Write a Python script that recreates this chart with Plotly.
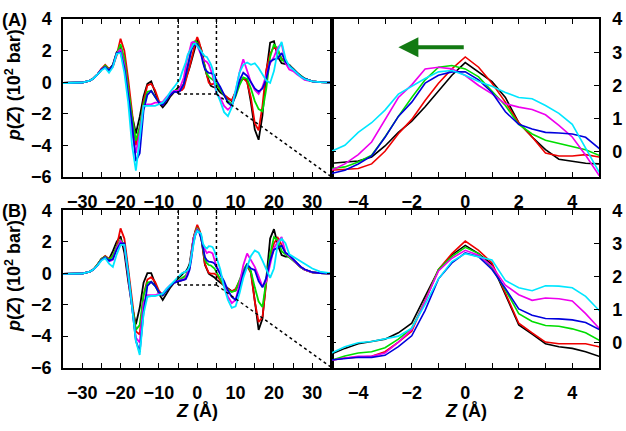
import plotly.graph_objects as go

# Z grid (Å): 1 Å steps outside the zoom window, 0.5 Å inside
Z = [-35, -32, -30, -28, -27, -26, -25, -24, -23, -22, -21, -20, -19, -18, -17, -16, -15, -14, -13, -12, -11, -10, -9, -8, -7, -6,
     -5, -4.5, -4, -3.5, -3, -2.5, -2, -1.5, -1, -0.5, 0, 0.5, 1, 1.5, 2, 2.5, 3, 3.5, 4, 4.5, 5,
     6, 7, 8, 9, 10, 11, 12, 13, 14, 15, 16, 17, 18, 19, 20, 21, 22, 23, 24, 25, 26, 27, 28, 30, 32, 35]

# Panel (A): p(Z) in 10^2 bar
A_black = [-0.05, -0.05, -0.02, 0.1, 0.25, 0.5, 0.8, 1.0, 0.8, 1.1, 1.9, 2.2, 1.3, -0.6, -2.1, -3.25, -2.2, -0.9, -0.1, 0.05, -0.7, -1.3, -1.6, -1.3, -0.9, -0.6,
           -0.34, -0.3, -0.27, -0.15, 0.18, 0.59, 0.93, 1.36, 1.83, 2.31, 2.69, 2.41, 2.12, 1.64, 0.88, 0.45, 0.07, -0.22, -0.29, -0.34, -0.36,
           -0.65, -0.85, -1.05, -1.2, -0.65, -0.05, 0.25, 0.1, -1.3, -3.0, -3.65, -2.1, 0.6, 2.5, 2.6, 1.6, 1.2, 1.15, 1.1, 0.8, 0.55, 0.38, 0.22, 0.05, 0.0, -0.02]
A_red = [-0.05, -0.05, -0.02, 0.1, 0.25, 0.5, 0.85, 1.1, 0.85, 1.0, 1.7, 2.75, 2.0, 0.2, -1.8, -4.0, -3.0, -1.2, -0.2, -0.1, -0.5, -1.2, -1.45, -1.1, -0.8, -0.6,
         -0.55, -0.52, -0.5, -0.36, 0.02, 0.55, 0.98, 1.55, 2.07, 2.5, 2.86, 2.55, 2.07, 1.5, 0.88, 0.45, -0.03, -0.12, -0.12, -0.08, -0.15,
         -0.5, -0.8, -1.0, -1.15, -0.6, 0.0, 0.25, 0.0, -1.0, -2.6, -3.05, -1.5, 0.8, 1.8, 2.25, 2.0, 1.5, 1.3, 1.1, 0.85, 0.6, 0.38, 0.22, 0.05, 0.0, -0.02]
A_green = [-0.05, -0.05, -0.02, 0.1, 0.25, 0.5, 0.8, 1.05, 0.8, 1.05, 1.8, 2.4, 1.5, -0.4, -2.2, -3.7, -2.8, -1.4, -0.6, -0.55, -0.9, -1.3, -1.4, -1.05, -0.75, -0.55,
           -0.5, -0.45, -0.3, -0.1, 0.45, 1.07, 1.64, 2.17, 2.55, 2.6, 2.5, 2.26, 1.83, 1.4, 0.83, 0.54, 0.35, 0.25, 0.16, 0.07, -0.1,
           -0.45, -0.8, -1.2, -1.4, -0.9, -0.2, 0.3, 0.2, -0.4, -1.2, -1.7, -1.85, -0.4, 1.6, 2.4, 2.1, 1.4, 1.3, 1.1, 0.85, 0.6, 0.38, 0.22, 0.05, 0.0, -0.02]
A_magenta = [-0.05, -0.05, -0.02, 0.1, 0.25, 0.5, 0.8, 0.95, 0.75, 1.0, 1.8, 2.1, 1.1, -0.8, -3.2, -4.5, -3.2, -1.5, -1.4, -1.4, -1.3, -1.3, -1.25, -0.95, -0.7, -0.55,
             -0.55, -0.36, -0.08, 0.3, 0.98, 1.64, 2.02, 2.5, 2.55, 2.5, 2.3, 2.0, 1.75, 1.45, 1.35, 1.28, 1.12, 0.8, 0.45, -0.1, -0.7,
             -1.0, -1.5, -1.75, -1.5, -0.6, 0.6, 1.45, 0.7, 0.0, -0.5, -0.75, -0.3, 0.4, 1.2, 1.6, 2.2, 2.45, 1.2, 0.8, 0.7, 0.5, 0.3, 0.15, 0.05, 0.0, -0.02]
A_blue = [-0.05, -0.05, -0.02, 0.1, 0.25, 0.5, 0.8, 0.95, 0.75, 1.05, 1.85, 1.9, 0.9, -0.8, -2.6, -5.0, -4.5, -1.8, -0.8, -0.55, -0.9, -1.3, -1.45, -1.1, -0.8, -0.6,
          -0.65, -0.55, -0.36, -0.12, 0.44, 1.07, 1.5, 2.07, 2.31, 2.41, 2.41, 2.17, 1.79, 1.21, 0.83, 0.69, 0.59, 0.57, 0.54, 0.44, 0.11,
          -0.3, -0.8, -1.3, -1.5, -0.8, 0.1, 0.6, 0.4, 0.0, -0.4, -0.6, -0.4, 0.2, 1.3, 1.45, 1.5, 1.85, 1.3, 1.05, 0.85, 0.6, 0.38, 0.22, 0.05, 0.0, -0.02]
A_cyan = [-0.05, -0.05, -0.02, 0.1, 0.25, 0.5, 0.75, 0.9, 0.6, 0.95, 1.8, 1.85, 0.6, -1.3, -4.0, -5.6, -3.6, -1.5, -1.5, -1.5, -1.5, -1.4, -1.3, -1.0, -0.6, -0.3,
          0.02, 0.2, 0.59, 0.88, 1.26, 1.74, 1.98, 2.21, 2.41, 2.45, 2.31, 2.12, 1.98, 1.79, 1.64, 1.6, 1.4, 1.16, 0.83, 0.1, -0.6,
          -1.2, -1.9, -2.15, -1.6, -0.5, 0.6, 1.1, 1.25, 1.1, 1.2, 0.9, 0.5, 0.1, -0.05, 0.7, 2.0, 2.55, 1.5, 1.0, 0.8, 0.55, 0.35, 0.2, 0.05, 0.0, -0.02]

# Panel (B)
B_black = [-0.05, -0.05, -0.02, 0.1, 0.25, 0.55, 0.9, 1.05, 0.9, 1.4, 2.0, 2.35, 1.3, -0.5, -2.1, -3.25, -2.2, -0.6, 0.0, 0.0, -0.6, -1.3, -1.7, -1.3, -0.9, -0.6,
           -0.34, -0.17, -0.03, 0.04, 0.11, 0.3, 0.59, 1.4, 2.2, 2.65, 2.94, 2.69, 2.36, 1.45, 0.54, 0.26, -0.03, -0.12, -0.17, -0.27, -0.41,
           -0.6, -0.8, -1.0, -1.15, -1.1, -0.6, 0.0, 0.45, 0.1, -1.6, -3.6, -2.9, -0.3, 2.2, 2.8, 1.8, 1.15, 1.05, 1.05, 0.85, 0.6, 0.38, 0.22, 0.05, 0.0, -0.02]
B_red = [-0.05, -0.05, -0.02, 0.1, 0.25, 0.55, 0.9, 1.1, 0.9, 1.1, 1.7, 2.85, 2.2, 0.3, -1.8, -3.7, -3.9, -1.4, -0.4, -0.25, -0.55, -1.1, -1.4, -1.1, -0.8, -0.6,
         -0.53, -0.46, -0.44, -0.41, -0.27, 0.02, 0.35, 1.26, 2.21, 2.69, 3.07, 2.79, 2.41, 1.5, 0.59, 0.3, 0.02, -0.03, -0.03, -0.03, -0.12,
         -0.5, -0.8, -1.0, -1.15, -1.0, -0.5, 0.1, 0.5, 0.0, -1.8, -3.1, -2.8, -0.6, 1.0, 1.9, 2.25, 1.8, 1.3, 1.1, 0.85, 0.6, 0.38, 0.22, 0.05, 0.0, -0.02]
B_green = [-0.05, -0.05, -0.02, 0.1, 0.25, 0.55, 0.9, 1.05, 0.85, 1.1, 1.7, 2.1, 1.8, 0.0, -2.0, -3.6, -3.3, -1.4, -0.6, -0.55, -0.8, -1.2, -1.4, -1.1, -0.8, -0.6,
           -0.53, -0.4, -0.31, -0.27, -0.15, 0.11, 0.44, 1.26, 2.21, 2.6, 2.88, 2.69, 2.26, 1.6, 0.88, 0.64, 0.52, 0.5, 0.42, 0.3, 0.07,
           -0.4, -0.8, -1.05, -1.2, -1.1, -0.5, 0.2, 0.6, 0.1, -0.9, -1.8, -2.15, -0.6, 1.2, 2.3, 2.1, 1.4, 1.2, 1.05, 0.85, 0.6, 0.38, 0.22, 0.05, 0.0, -0.02]
B_magenta = [-0.05, -0.05, -0.02, 0.1, 0.25, 0.5, 0.85, 1.0, 0.75, 0.85, 1.6, 2.05, 1.7, -0.2, -2.3, -4.1, -4.4, -1.9, -1.4, -1.4, -1.4, -1.3, -1.3, -1.0, -0.75, -0.6,
             -0.53, -0.46, -0.41, -0.41, -0.31, 0.02, 0.4, 1.26, 2.17, 2.55, 2.79, 2.64, 2.31, 1.74, 1.45, 1.28, 1.35, 1.33, 1.26, 0.88, 0.44,
             0.0, -0.7, -1.5, -1.9, -1.7, -0.7, 0.5, 1.25, 0.8, 0.4, -0.2, -0.85, -0.5, 0.6, 1.6, 2.0, 2.3, 1.3, 1.1, 0.85, 0.6, 0.38, 0.22, 0.05, 0.0, -0.02]
B_blue = [-0.05, -0.05, -0.02, 0.1, 0.25, 0.5, 0.85, 1.0, 0.8, 0.9, 1.5, 1.9, 1.9, 0.0, -2.3, -4.3, -5.0, -2.5, -0.8, -0.55, -0.8, -1.2, -1.4, -1.1, -0.8, -0.6,
          -0.53, -0.48, -0.44, -0.44, -0.38, -0.12, 0.21, 0.98, 1.93, 2.41, 2.71, 2.6, 2.21, 1.64, 1.02, 0.83, 0.73, 0.72, 0.69, 0.61, 0.4,
          0.0, -0.5, -1.1, -1.5, -1.7, -1.0, 0.0, 0.55, 0.3, 0.2, -0.5, -0.9, -0.3, 0.8, 1.5, 1.6, 1.75, 1.3, 1.15, 0.9, 0.65, 0.4, 0.25, 0.06, 0.0, -0.02]
B_cyan = [-0.05, -0.05, -0.02, 0.1, 0.25, 0.5, 0.8, 0.95, 0.6, 0.4, 1.2, 1.8, 1.8, 0.0, -2.2, -4.3, -5.2, -2.6, -1.5, -1.45, -1.45, -1.35, -1.3, -1.0, -0.75, -0.55,
          -0.31, -0.12, 0.0, 0.04, 0.11, 0.2, 0.44, 1.16, 1.93, 2.45, 2.69, 2.6, 2.5, 1.88, 1.66, 1.57, 1.72, 1.71, 1.66, 1.4, 0.98,
          0.25, -0.9, -1.7, -2.2, -2.1, -1.3, -0.3, 0.4, 1.1, 1.45, 1.3, 0.8, 0.2, -0.3, 0.3, 1.9, 2.2, 1.9, 1.2, 1.05, 0.95, 0.75, 0.6, 0.3, 0.1, -0.02]

SERIES_COLORS = ["#000000", "#ee0000", "#00dd00", "#ee00ee", "#0000dd", "#00e6ff"]
PANEL_A = [A_black, A_red, A_green, A_magenta, A_blue, A_cyan]
PANEL_B = [B_black, B_red, B_green, B_magenta, B_blue, B_cyan]

for s in PANEL_A + PANEL_B:
    assert len(s) == len(Z), len(s)

FULL_X = [-35, 35]
FULL_Y = [-6, 4]
ZOOM_X = [-5, 5]
ZOOM_Y = [-0.75, 4]
FULL_TICKS = [-30, -20, -10, 0, 10, 20, 30]
FULL_YTICKS = [-6, -4, -2, 0, 2, 4]
ZOOM_TICKS = [-4, -2, 0, 2, 4]
ZOOM_YTICKS = [0, 1, 2, 3, 4]
ARROW = dict(x_from=0, x_to=-2.5, y=3.15)

W, H = 626, 431
FONT = "Liberation Sans, Arial, Helvetica, sans-serif"
tickfont = dict(family=FONT, size=18, color="black", weight="bold")

fig = go.Figure()

panels = [(PANEL_A, "x", "y", "x2", "y2"), (PANEL_B, "x3", "y3", "x4", "y4")]
for data, xl, yl, xr, yr in panels:
    for vals, col in zip(data, SERIES_COLORS):
        fig.add_trace(go.Scatter(x=Z, y=vals, mode="lines", xaxis=xl, yaxis=yl,
                                 line=dict(color=col, width=1.8), showlegend=False,
                                 hoverinfo="skip"))
        fig.add_trace(go.Scatter(x=Z, y=vals, mode="lines", xaxis=xr, yaxis=yr,
                                 line=dict(color=col, width=1.6), showlegend=False,
                                 hoverinfo="skip"))

def px_x(a, b):
    return [a / W, b / W]

def px_y(top, bottom):
    return [1 - bottom / H, 1 - top / H]

common = dict(showline=True, linecolor="black", linewidth=1.5, mirror="ticks",
              ticks="inside", ticklen=5, tickwidth=1.2, tickcolor="black",
              showgrid=False, zeroline=False, tickfont=tickfont)

LX = px_x(63, 331.5)
RX = px_x(331.5, 599)
AY = px_y(9.5, 175)
BY = px_y(210, 375)
X_STANDOFF = 8

layout = dict(
    width=W, height=H, margin=dict(l=0, r=0, t=0, b=0),
    paper_bgcolor="white", plot_bgcolor="white",
)
for i, (ydom) in enumerate([AY, BY]):
    n = 2 * i
    xl = "xaxis" if n == 0 else f"xaxis{n+1}"
    yl = "yaxis" if n == 0 else f"yaxis{n+1}"
    xr = f"xaxis{n+2}"
    yr = f"yaxis{n+2}"
    yl_ref = "y" if n == 0 else f"y{n+1}"
    yr_ref = f"y{n+2}"
    xl_ref = "x" if n == 0 else f"x{n+1}"
    xr_ref = f"x{n+2}"
    layout[xl] = dict(domain=LX, range=FULL_X, tickvals=FULL_TICKS, anchor=yl_ref,
                      minor=dict(dtick=5, ticks="inside", ticklen=5, tickcolor="black"),
                      ticklabelstandoff=X_STANDOFF, **common)
    layout[yl] = dict(domain=ydom, range=FULL_Y, tickvals=FULL_YTICKS, anchor=xl_ref,
                      ticklabelstandoff=6, **common)
    layout[xr] = dict(domain=RX, range=ZOOM_X, tickvals=ZOOM_TICKS, anchor=yr_ref,
                      minor=dict(dtick=1, ticks="inside", ticklen=5, tickcolor="black"),
                      ticklabelstandoff=X_STANDOFF, **common)
    layout[yr] = dict(domain=ydom, range=ZOOM_Y, tickvals=ZOOM_YTICKS, anchor=xr_ref,
                      side="right", ticklabelstandoff=8, **common)

fig.update_layout(**layout)

# Dotted guide lines marking the zoom window
dot = dict(color="black", width=1.5, dash="dot")
for xref, yref in [("x", "y"), ("x3", "y3")]:
    z0, z1 = ZOOM_X
    zb, zt = ZOOM_Y[0], FULL_Y[1]
    fig.add_shape(type="line", xref=xref, yref=yref, x0=z0, x1=z0, y0=zb, y1=zt, line=dot)
    fig.add_shape(type="line", xref=xref, yref=yref, x0=z1, x1=z1, y0=zb, y1=zt, line=dot)
    fig.add_shape(type="line", xref=xref, yref=yref, x0=z0, x1=z1, y0=zb, y1=zb, line=dot)
    fig.add_shape(type="line", xref=xref, yref=yref, x0=z1, x1=FULL_X[1], y0=zb, y1=FULL_Y[0], line=dot)

# Arrow in panel A zoom
fig.add_annotation(x=ARROW["x_to"], y=ARROW["y"], ax=ARROW["x_from"], ay=ARROW["y"],
                   xref="x2", yref="y2", axref="x2", ayref="y2", text="",
                   showarrow=True, arrowhead=2, arrowsize=1, arrowwidth=4, arrowcolor="#137a13")

lab = dict(family=FONT, size=18, color="black", weight="bold")
fig.add_annotation(text="(A)", x=0, y=1 - 11 / H, xref="paper", yref="paper",
                   xanchor="left", yanchor="middle", showarrow=False, font=lab)
fig.add_annotation(text="(B)", x=0, y=1 - 211 / H, xref="paper", yref="paper",
                   xanchor="left", yanchor="middle", showarrow=False, font=lab)
ytitle = "<i>p</i>(<i>Z</i>) (10<sup>2</sup> bar)"
for yc in [79, 279]:
    fig.add_annotation(text=ytitle, x=13 / W, y=1 - yc / H, xref="paper", yref="paper",
                       xanchor="center", yanchor="middle", textangle=-90, showarrow=False, font=lab)
for xc in [197, 465.5]:
    fig.add_annotation(text="<i>Z</i> (Å)", x=xc / W, y=1 - 421 / H, xref="paper", yref="paper",
                       xanchor="center", yanchor="middle", showarrow=False, font=lab)

# remove the browser's default 8px body margin so the figure fills the window exactly
fig.write_html("out.html", config={"displayModeBar": False},
               post_script="document.body.style.margin='0px';")
